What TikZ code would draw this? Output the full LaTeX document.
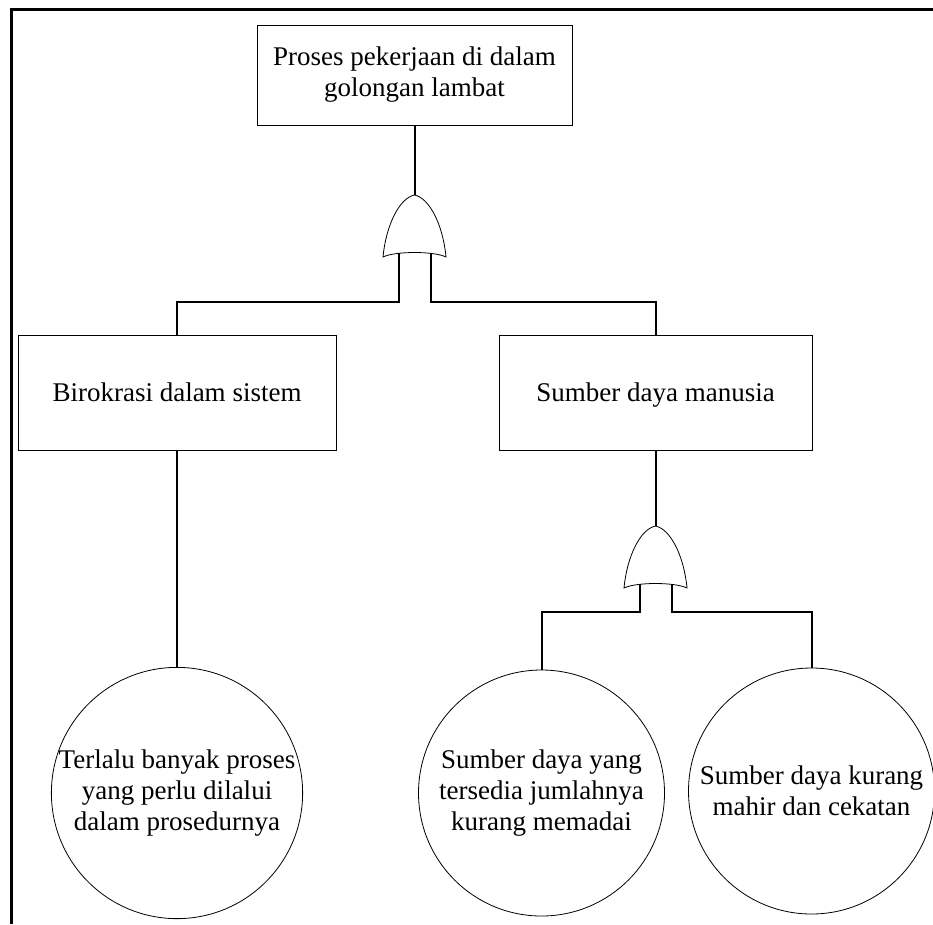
\documentclass[tikz,border=0pt]{standalone}
\usepackage{fontspec}
\setmainfont{Liberation Serif}
\usetikzlibrary{calc}

\tikzset{
  event/.style={draw, line width=0.8, fill=white, align=center, inner sep=2},
  oneline/.style={text height=24.6pt, text depth=6pt},
  basic/.style={draw, circle, line width=0.8, fill=white, align=center,
    minimum size=246, inner sep=0},
  conn/.style={line width=2},
  orgate/.style={draw, line width=0.8, fill=white},
}

\begin{document}
\begin{tikzpicture}[x=1pt, y=-1pt,
    every node/.style={font=\fontsize{27}{31}\selectfont}]
  \useasboundingbox (0,0) rectangle (933,924);

  % page frame
  \draw[line width=3] (933,9) -- (11,9) -- (11,924);

  % events
  \node[event, minimum width=315, minimum height=100] (lambat) at (414.5,75)
    {Proses pekerjaan di dalam\\golongan lambat};
  \node[event, oneline, minimum width=318, minimum height=115] (biro) at (177,392.5)
    {Birokrasi dalam sistem};
  \node[event, oneline, minimum width=313, minimum height=115] (sdm) at (655.5,392.5)
    {Sumber daya manusia};

  % basic events
  \node[basic] (terlalu) at (177,793)
    {Terlalu banyak proses\\yang perlu dilalui\\dalam prosedurnya};
  \node[basic] (tersedia) at (541.5,793)
    {Sumber daya yang\\tersedia jumlahnya\\kurang memadai};
  \node[basic] (mahir) at (811.5,791)
    {Sumber daya kurang\\mahir dan cekatan};

  % or gates
  \coordinate (or1) at (414.5,195);
  \coordinate (or2) at (655.5,526);
  \foreach \g in {or1,or2} {
    \draw[orgate] (\g) .. controls ++(15,3) and ++(-3,-32) .. ++(31.5,62)
      .. controls ++(-12,-6) and ++(12,-6) .. ++(-63,0)
      .. controls ++(3,-32) and ++(-15,3) .. cycle;
    \coordinate (\g l) at ($(\g)+(-16,58)$);
    \coordinate (\g r) at ($(\g)+(16,58)$);
  }

  % connections
  \draw[conn] (lambat.south) -- (or1);
  \draw[conn] (or1l) -- ++(0,49) -| (biro.north);
  \draw[conn] (or1r) -- ++(0,49) -| (sdm.north);
  \draw[conn] (biro.south) -- (terlalu.north);
  \draw[conn] (sdm.south) -- (or2);
  \draw[conn] (or2l) -- ++(0,28) -| (tersedia.north);
  \draw[conn] (or2r) -- ++(0,28) -| (mahir.north);
\end{tikzpicture}
\end{document}
